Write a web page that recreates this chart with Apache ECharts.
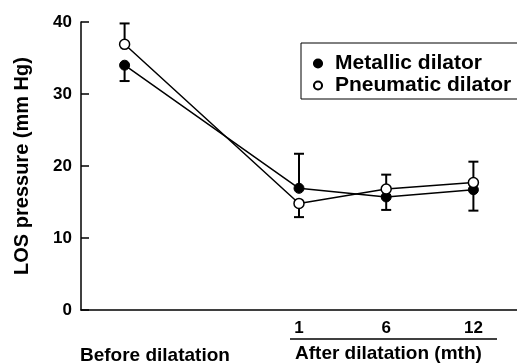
<!DOCTYPE html>
<html>
<head>
<meta charset="utf-8">
<style>
  html, body { margin: 0; padding: 0; background: #fff; }
  #chart { width: 517px; height: 364px; }
</style>
<script src="https://cdn.jsdelivr.net/npm/echarts@6/dist/echarts.min.js"></script>
</head>
<body>
<div id="chart"></div>
<script>
var dom = document.getElementById('chart');
var myChart = echarts.init(dom, null, { renderer: 'canvas' });

// x positions: before, (gap), 1, 6, 12 months
const tickLabels = ['', '', '1', '6', '12'];
const groupLabels = ['Before dilatation', 'After dilatation (mth)'];
const yTicks = [0, 10, 20, 30, 40];

const metallic = [34.0, null, 16.9, 15.7, 16.7];
const pneumatic = [36.9, null, 14.8, 16.8, 17.7];
// error bar end values (only one side is drawn in the figure)
const metallicErr = [31.8, null, 21.7, 13.9, 13.8];
const pneumaticErr = [39.8, null, 12.9, 18.8, 20.6];

const font = '"Liberation Sans", Arial, Helvetica, sans-serif';

function errData(means, ends) {
  const out = [];
  means.forEach(function (m, i) {
    if (m != null && ends[i] != null) out.push([i, m, ends[i]]);
  });
  return out;
}

function renderErr(params, api) {
  const p0 = api.coord([api.value(0), api.value(1)]);
  const p1 = api.coord([api.value(0), api.value(2)]);
  const style = { stroke: '#000', lineWidth: 2 };
  return {
    type: 'group',
    children: [
      { type: 'line', shape: { x1: p0[0], y1: p0[1], x2: p1[0], y2: p1[1] }, style: style },
      { type: 'line', shape: { x1: p1[0] - 5, y1: p1[1], x2: p1[0] + 5, y2: p1[1] }, style: style }
    ]
  };
}

option = {
  animation: false,
  grid: { left: 81, top: 22, bottom: 54, width: 440 },
  legend: {
    orient: 'vertical',
    left: 301,
    top: 43,
    padding: [10, 40, 3, 11],
    itemGap: 1,
    itemWidth: 10,
    itemHeight: 10,
    borderColor: '#000',
    borderWidth: 1,
    textStyle: { fontFamily: font, fontSize: 21, fontWeight: 'bold', color: '#000', padding: [0, 0, 0, 7] },
    data: ['Metallic dilator', 'Pneumatic dilator']
  },
  xAxis: {
    type: 'category',
    data: tickLabels,
    boundaryGap: true,
    axisLine: { lineStyle: { color: '#000', width: 1.5 } },
    axisTick: { show: false },
    axisLabel: { interval: 0, margin: 10, color: '#000', fontFamily: font, fontSize: 17, fontWeight: 'bold' },
    splitLine: { show: false }
  },
  yAxis: {
    type: 'value',
    min: yTicks[0],
    max: yTicks[yTicks.length - 1],
    interval: 10,
    name: 'LOS pressure (mm Hg)',
    nameLocation: 'middle',
    nameRotate: 90,
    nameGap: 49,
    nameTextStyle: { fontFamily: font, fontSize: 20, fontWeight: 'bold', color: '#000' },
    axisLine: { show: true, lineStyle: { color: '#000', width: 1.5 } },
    axisTick: { show: true, inside: true, length: 8, lineStyle: { color: '#000', width: 1.5 } },
    axisLabel: { margin: 9, color: '#000', fontFamily: font, fontSize: 17, fontWeight: 'bold' },
    splitLine: { show: false }
  },
  graphic: [
    {
      type: 'text', left: 80, top: 346, silent: true,
      style: { text: groupLabels[0], font: 'bold 19px ' + font, fill: '#000' }
    },
    {
      type: 'line', silent: true,
      shape: { x1: 290, y1: 339, x2: 497, y2: 339 },
      style: { stroke: '#000', lineWidth: 1.5 }
    },
    {
      type: 'text', left: 295, top: 344, silent: true,
      style: { text: groupLabels[1], font: 'bold 19px ' + font, fill: '#000' }
    }
  ],
  series: [
    {
      type: 'custom',
      name: 'err-metallic',
      renderItem: renderErr,
      data: errData(metallic, metallicErr),
      clip: false,
      z: 1
    },
    {
      type: 'custom',
      name: 'err-pneumatic',
      renderItem: renderErr,
      data: errData(pneumatic, pneumaticErr),
      clip: false,
      z: 1
    },
    {
      name: 'Metallic dilator',
      type: 'line',
      data: metallic,
      connectNulls: true,
      symbol: 'circle',
      symbolSize: 10,
      showAllSymbol: true,
      lineStyle: { color: '#000', width: 1.5 },
      itemStyle: { color: '#000', borderColor: '#000', borderWidth: 1 },
      z: 3
    },
    {
      name: 'Pneumatic dilator',
      type: 'line',
      data: pneumatic,
      connectNulls: true,
      symbol: 'circle',
      symbolSize: 10,
      showAllSymbol: true,
      lineStyle: { color: '#000', width: 1.5 },
      itemStyle: { color: '#fff', borderColor: '#000', borderWidth: 1.5 },
      z: 4
    }
  ]
};

myChart.setOption(option);
window.addEventListener('resize', myChart.resize);
</script>
</body>
</html>
